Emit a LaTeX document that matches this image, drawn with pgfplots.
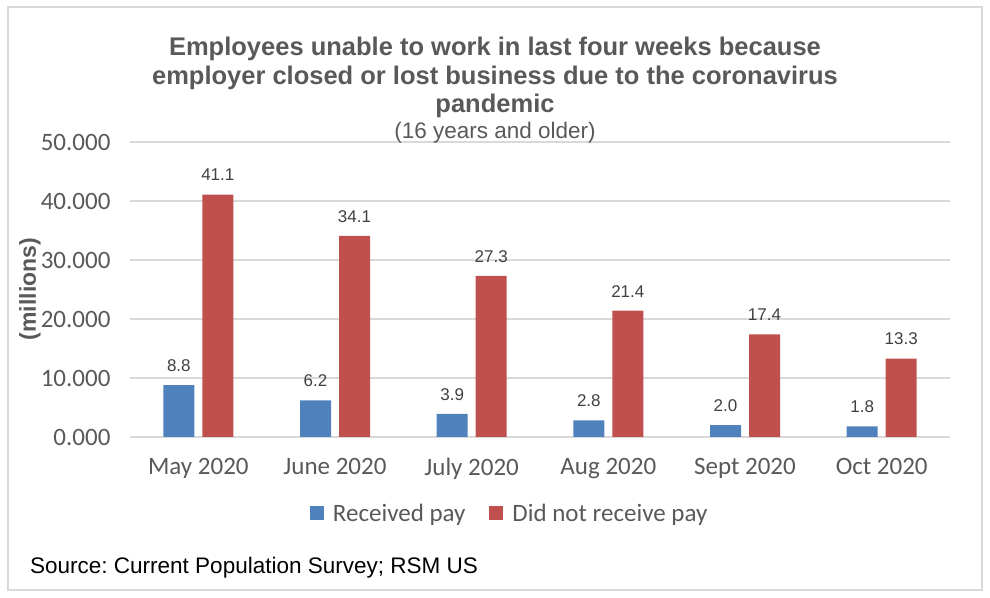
\documentclass[border=0pt]{standalone}
\usepackage{fontspec}
\setmainfont{Liberation Sans}
\newfontfamily\carlito{Carlito}
\usepackage{pgfplots}
\pgfplotsset{compat=1.18}
\definecolor{bblue}{HTML}{4F81BD}
\definecolor{rred}{HTML}{C0504D}
\definecolor{txtgray}{HTML}{595959}
\definecolor{gridc}{HTML}{D9D9D9}
\definecolor{lblc}{HTML}{404040}
\frenchspacing
\begin{document}
\begin{tikzpicture}
\path[use as bounding box] (0pt,0pt) rectangle (990pt,597pt);
\draw[gridc, line width=1.5pt] (8pt,7pt) rectangle (982pt,590pt);
\begin{axis}[
  at={(130pt,160pt)}, anchor=south west,
  scale only axis, width=820pt, height=295pt,
  xmin=-0.5, xmax=5.5, ymin=0, ymax=50,
  ybar=8pt, bar width=31pt,
  axis line style={draw=none},
  major tick length=0pt,
  ymajorgrids, grid style={gridc, line width=1.3pt},
  ytick={0,10,20,30,40,50},
  xtick={0,1,2,3,4,5},
  xticklabels={May 2020, June 2020, July 2020, Aug 2020, Sept 2020, Oct 2020},
  /pgf/number format/assume math mode=true,
  yticklabel={\pgfmathprintnumber[fixed,fixed zerofill,precision=3]{\tick}},
  yticklabel style={font=\carlito\fontsize{25}{30}\selectfont, text=txtgray, xshift=-16pt},
  xticklabel style={font=\carlito\fontsize{25}{30}\selectfont, text=txtgray, yshift=-18pt},
  nodes near coords={\pgfmathprintnumber[fixed,fixed zerofill,precision=1]{\pgfplotspointmeta}},
  every node near coord/.append style={font=\fontsize{17}{20}\selectfont, text=lblc, yshift=10pt},
  clip=false,
  legend style={at={(0.463,-0.261)}, anchor=center, draw=none, fill=none,
    legend columns=2, font=\carlito\fontsize{25}{30}\selectfont, text=txtgray,
    /tikz/every odd column/.append style={column sep=7pt},
    /tikz/every even column/.append style={column sep=22pt}, cells={anchor=west}},
  legend image code/.code={\fill[#1,draw=none] (0pt,-6pt) rectangle (14pt,8pt);},
]
\addplot[fill=bblue, draw=none] coordinates {(0,8.8) (1,6.2) (2,3.9) (3,2.8) (4,2.0) (5,1.8)};
\addlegendentry{Received pay}
\addplot[fill=rred, draw=none] coordinates {(0,41.1) (1,34.1) (2,27.3) (3,21.4) (4,17.4) (5,13.3)};
\addlegendentry{Did not receive pay}
\end{axis}
\begin{scope}[every node/.style={text=txtgray, font=\bfseries\fontsize{25.5}{30}\selectfont, anchor=base, inner sep=0pt}]
\node at (495pt,541pt) {Employees unable to work in last four weeks because};
\node at (495pt,512pt) {employer closed or lost business due to the coronavirus};
\node at (495pt,484pt) {pandemic};
\end{scope}
\node[text=txtgray, font=\fontsize{22.5}{27}\selectfont, anchor=base, inner sep=0pt] at (495pt,458pt) {(16 years and older)};
\node[text=txtgray, font=\bfseries\fontsize{23}{27}\selectfont, rotate=90, anchor=center, inner sep=0pt] at (30pt,308pt) {(millions)};
\node[text=black, font=\fontsize{22.5}{27}\selectfont, anchor=base west, inner sep=0pt] at (30pt,24pt) {Source: Current Population Survey; RSM US};
\end{tikzpicture}
\end{document}
